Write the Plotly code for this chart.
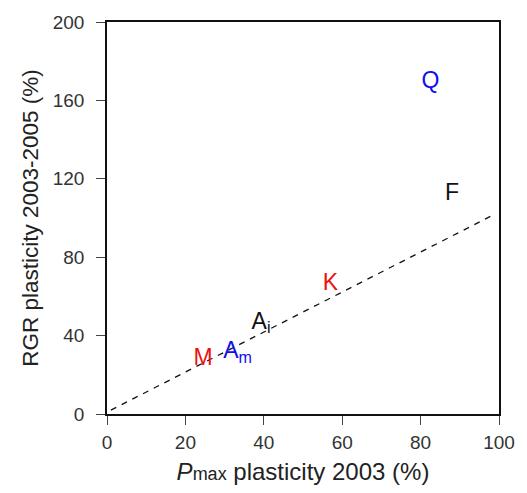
import plotly.graph_objects as go

# Species / group labels with their plasticity values
labels = ["Q", "F", "K", "A<sub>i</sub>", "A<sub>m</sub>", "M"]
pmax_plasticity = [82.5, 88.0, 57.0, 39.3, 33.3, 24.5]
rgr_plasticity = [169.5, 112.0, 66.0, 46.5, 31.5, 28.0]
label_colors = ["#1010ee", "#111111", "#ee1111", "#111111", "#1010ee", "#ee1111"]

# Reference trend line
trend_x = [1, 98]
trend_y = [2, 101]

x_ticks = [0, 20, 40, 60, 80, 100]
y_ticks = [0, 40, 80, 120, 160, 200]

font_family = "Liberation Sans, Arial, Helvetica, sans-serif"

fig = go.Figure()

fig.add_trace(go.Scatter(
    x=trend_x, y=trend_y, mode="lines",
    line=dict(color="#111111", width=1.3, dash="6px,6px"),
    hoverinfo="skip", showlegend=False,
))

fig.add_trace(go.Scatter(
    x=pmax_plasticity, y=rgr_plasticity, mode="text",
    text=labels, textposition="middle center",
    textfont=dict(family=font_family, size=23, color=label_colors),
    showlegend=False,
))

axis_common = dict(
    showgrid=False, zeroline=False,
    showline=True, linecolor="#111111", linewidth=1.5, mirror=True,
    ticks="outside", ticklen=9, tickwidth=1, tickcolor="#444444",
    tickfont=dict(family=font_family, size=19, color="#333333"),
)

fig.update_xaxes(
    range=[0, 100], tickvals=x_ticks, **axis_common,
    ticklabelstandoff=1,
    title=dict(
        text="<i>P</i><span style='font-size:18px'>max</span> plasticity 2003 (%)",
        font=dict(family=font_family, size=24, color="#222222"),
        standoff=12,
    ),
)
fig.update_yaxes(
    range=[0, 200], tickvals=y_ticks, **axis_common,
    ticklabelstandoff=8,
    title=dict(
        text="RGR plasticity 2003-2005 (%)",
        font=dict(family=font_family, size=22.5, color="#222222"),
        standoff=8,
    ),
)

fig.update_layout(
    width=527, height=493,
    margin=dict(l=107, r=26, t=20, b=79),
    plot_bgcolor="white", paper_bgcolor="white",
)

fig.write_html("out.html")
